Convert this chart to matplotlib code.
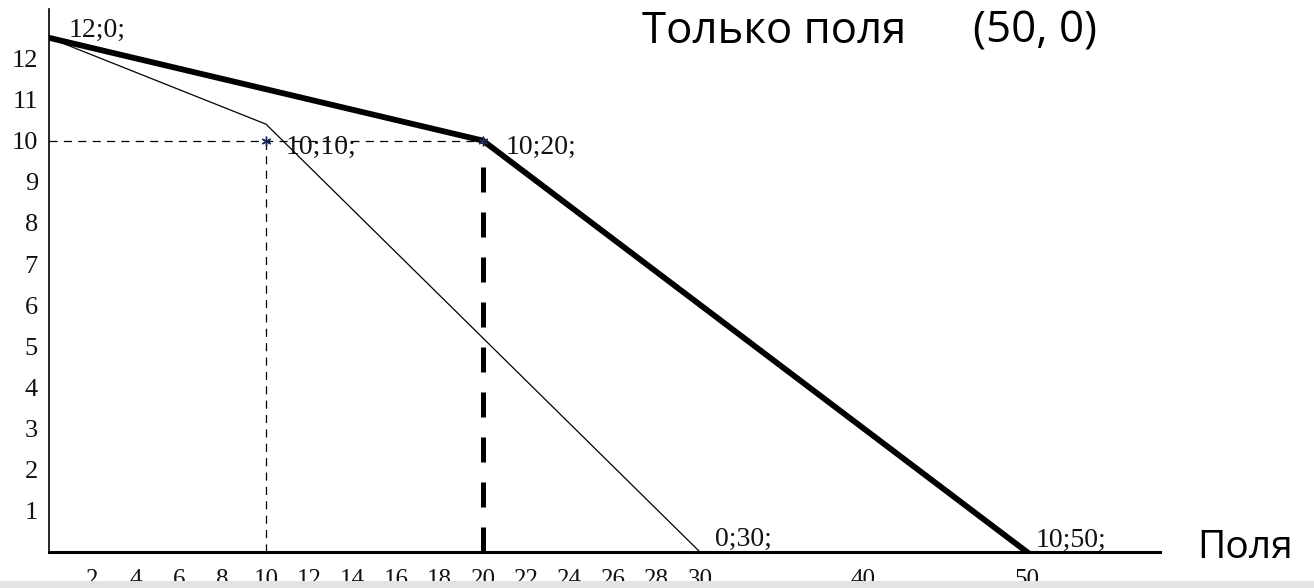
import numpy as np
import matplotlib
matplotlib.use("Agg")
import matplotlib.pyplot as plt
from matplotlib.patches import Rectangle

# line data
thick_x = [0, 20, 50]
thick_y = [12.5, 10, 0]
thin_x = [0, 10, 30]
thin_y = [12.5, 10.4, 0]

# dashed guides: (x, y) of the corner points
guide_thin = (10, 10)
guide_thick = (20, 10)

point_x = [0, 10, 20, 30, 50]
point_y = [12.5, 10, 10, 0, 0]
point_text = ["12;0;", "10;10;", "10;20;", "0;30;", "10;50;"]

x_ticks = [2, 4, 6, 8, 10, 12, 14, 16, 18, 20, 22, 24, 26, 28, 30, 40, 50]
y_ticks = [1, 2, 3, 4, 5, 6, 7, 8, 9, 10, 11, 12]

title_left = "Только поля"
title_right = "(50, 0)"
axis_name = "Поля"

# the drawing squeezes everything past 30
K = 0.7535


def fwd(x):
    x = np.asarray(x, dtype=float)
    return np.where(x <= 30, x, 30 + (x - 30) * K)


def inv(u):
    u = np.asarray(u, dtype=float)
    return np.where(u <= 30, u, 30 + (u - 30) / K)


def draw():
    fig = plt.figure(figsize=(13.14, 5.88), dpi=100)
    ax = fig.add_axes([0.0373, 0.0612, 0.8455, 0.9235])
    ax.set_xscale("function", functions=(fwd, inv))
    ax.set_xlim(0, float(inv(51.2)))
    ax.set_ylim(0, 13.2)

    serif = "Liberation Serif"

    # guides
    gx, gy = guide_thin
    ax.plot([0, guide_thick[0]], [gy, gy], color="black", lw=0.9,
            linestyle=(0, (6.5, 5)), zorder=2)
    ax.plot([gx, gx], [0, gy], color="black", lw=0.9,
            linestyle=(0, (6.5, 5)), zorder=2)
    tx, ty = guide_thick
    ax.plot([tx, tx], [0, ty - 0.25], color="black", lw=3.6,
            linestyle=(0, (5, 4)), zorder=2)

    ax.plot(thin_x, thin_y, color="black", lw=0.9, zorder=3)
    ax.plot(thick_x, thick_y, color="black", lw=4.2, zorder=4,
            solid_joinstyle="miter")

    ax.plot([gx, tx], [gy, ty], linestyle="none", marker=(6, 2, 0),
            markersize=7, color="#1d2a55", mew=1.0, zorder=5)

    offsets = [(14, 5), (14, -5), (16, -5), (11, 9), (6, 8)]
    for x, y, t, off in zip(point_x, point_y, point_text, offsets):
        ax.annotate(t, (x, y), xytext=off, textcoords="offset points",
                    ha="left", va="center", fontsize=20, family=serif,
                    color="#111111", zorder=6)

    ax.set_xticks(x_ticks)
    ax.set_xticklabels([str(v) for v in x_ticks])
    ax.set_yticks(y_ticks)
    ax.set_yticklabels([str(v) for v in y_ticks])
    ax.tick_params(axis="x", length=0, pad=12, labelsize=18)
    ax.tick_params(axis="y", length=0, pad=8, labelsize=19)
    for lab in ax.get_xticklabels() + ax.get_yticklabels():
        lab.set_family(serif)
        lab.set_color("#111111")

    ax.spines["top"].set_visible(False)
    ax.spines["right"].set_visible(False)
    ax.spines["left"].set_linewidth(1.2)
    ax.spines["bottom"].set_linewidth(2.2)

    sans = ["Open Sans", "DejaVu Sans"]
    fig.text(642 / 1314, 1 - 43 / 588, title_left, family=sans,
             fontsize=31.5, va="baseline", ha="left")
    fig.text(973 / 1314, 1 - 43 / 588, title_right, family=sans,
             fontsize=31.5, va="baseline", ha="left")
    fig.text(1197 / 1314, 1 - 558 / 588, axis_name, family=sans,
             fontsize=28, va="baseline", ha="left")

    # light strip along the bottom edge of the screenshot
    fig.add_artist(Rectangle((0, 0), 1, 7 / 588, transform=fig.transFigure,
                             facecolor="#e3e3e3", edgecolor="none", zorder=10))

    fig.savefig("out.png", dpi=100)


if __name__ == "__main__":
    draw()
